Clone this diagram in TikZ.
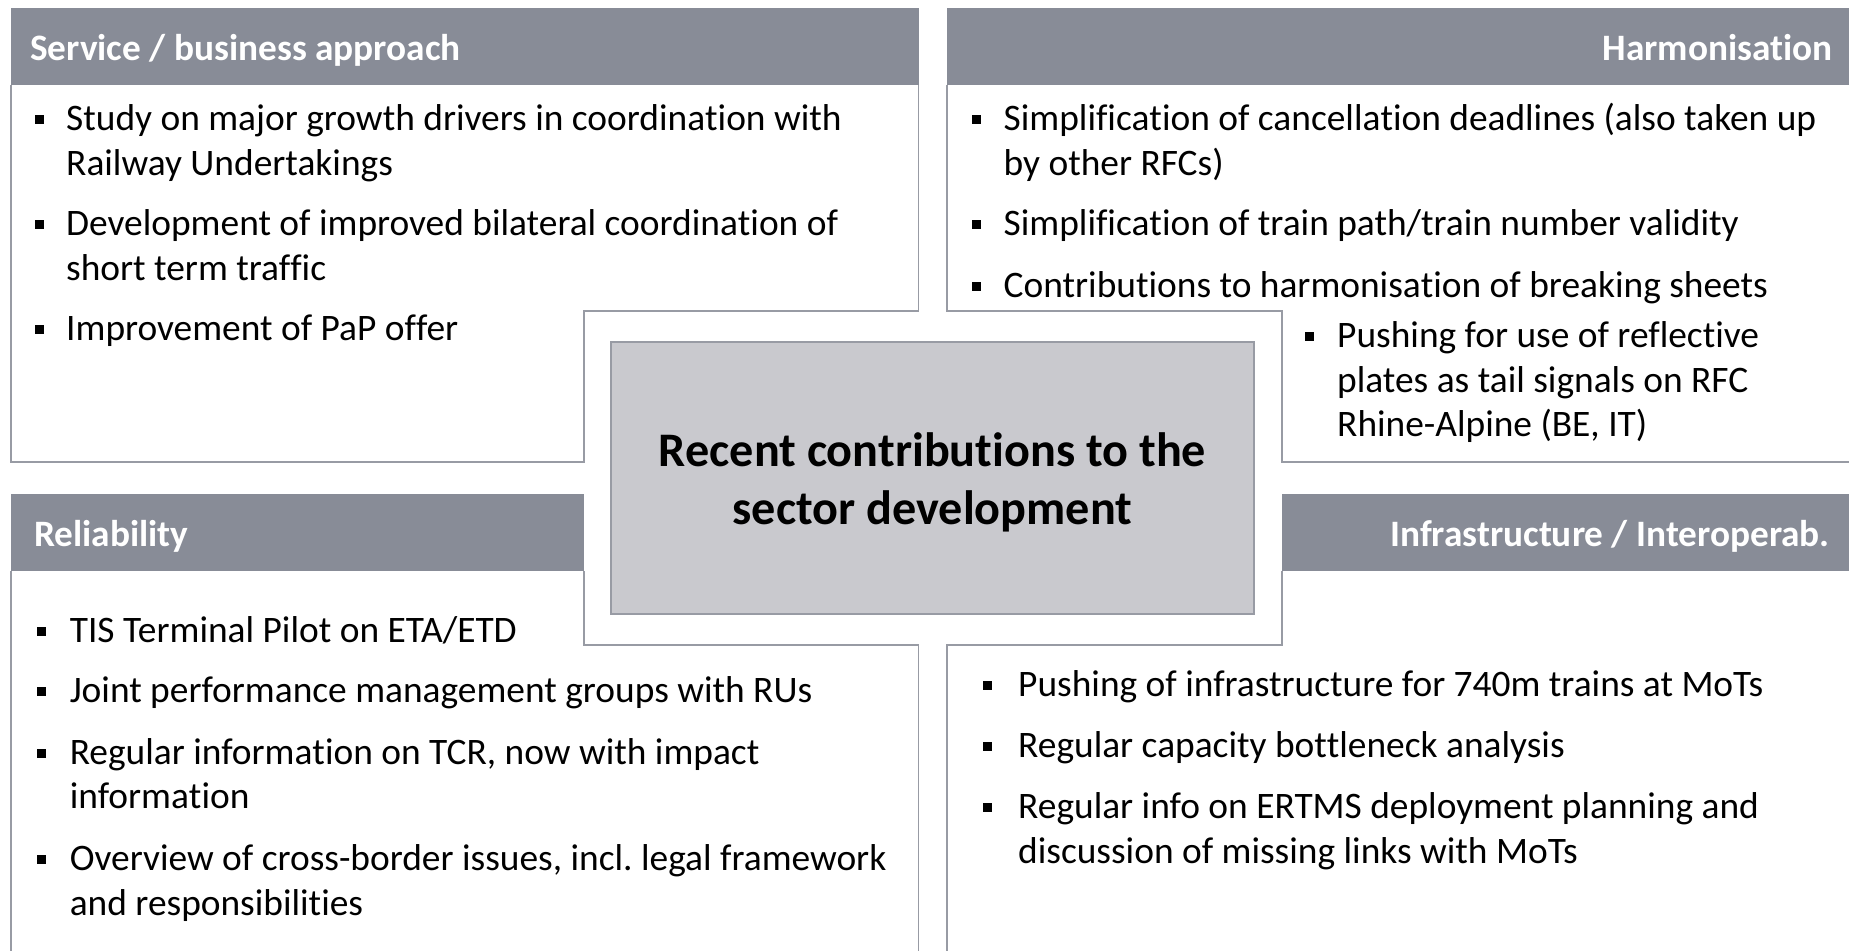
\documentclass[tikz,border=0pt]{standalone}
\usepackage{fontspec}
\setmainfont{Carlito}[Ligatures={NoCommon,NoRare,NoContextual}]
\newcommand{\nlg}{\kern0pt}
\frenchspacing
\definecolor{hdr}{RGB}{136,140,151}
\definecolor{ctr}{RGB}{201,201,206}
\definecolor{brd}{RGB}{152,155,164}
\begin{document}
\begin{tikzpicture}[x=1pt,y=-1pt,
  hdrbox/.style={fill=hdr},
  outline/.style={draw=brd,line width=1.6pt},
  htitle/.style={font=\fontsize{37.3}{45}\selectfont\bfseries,text=white,inner sep=0pt,yshift=-1.5pt},
  bodytxt/.style={font=\fontsize{37.4}{45}\selectfont,inner sep=0pt,anchor=base west,yshift=-3.5pt},
  bulsq/.style={fill=black,minimum size=9pt,inner sep=0pt,draw=none,yshift=-3.5pt},
  centertxt/.style={font=\fontsize{48.2}{59}\selectfont\bfseries,inner sep=0pt,anchor=base,yshift=-3pt}
]
\useasboundingbox[fill=white] (0,0) rectangle (1849,950);

% headers
\fill[hdrbox] (11,8) rectangle (918.6,85);
\fill[hdrbox] (947,8) rectangle (1849,85);
\fill[hdrbox] (11,494) rectangle (583.7,571);
\fill[hdrbox] (1282,494) rectangle (1849,571);

% outlines
\draw[outline] (11,85) -- (11,462) -- (583.7,462) -- (583.7,311) -- (918.6,311) -- (918.6,85);
\draw[outline] (947,85) -- (947,311) -- (1282,311) -- (1282,462) -- (1855,462);
\draw[outline] (11,571) -- (11,956);
\draw[outline] (583.7,571) -- (583.7,645) -- (918.6,645) -- (918.6,956);
\draw[outline] (1282,571) -- (1282,645) -- (947,645) -- (947,956);

% center box
\node[draw=brd,fill=ctr,line width=1.6pt,minimum width=643pt,minimum height=272pt,inner sep=0pt] (center) at (932.5,478) {};
\node[centertxt] (c1) at (932.5,463) {Recent contribu\nlg tions to the};
\node[centertxt] (c2) at (932.5,521) {sector development};

% header titles
\node[htitle,anchor=base west] (h1) at (30,59) {Service / business approach};
\node[htitle,anchor=base east] (h2) at (1833,59) {Harmonisa\nlg tion};
\node[htitle,anchor=base west] (h3) at (34,545) {Reliability};
\node[htitle,anchor=base east] (h4) at (1830,545) {Infrastructure / Interoperab.};

% top-left
\node[bulsq] (tlb1) at (39,116.4) {};
\node[bodytxt] (tl1a) at (66,127.4) {Study on major growth drivers in coordina\nlg tion with};
\node[bodytxt] (tl1b) at (66,172.2) {Railway Undertakings};
\node[bulsq] (tlb2) at (39,221.3) {};
\node[bodytxt] (tl2a) at (66,232.3) {Development of improved bilateral coordina\nlg tion of};
\node[bodytxt] (tl2b) at (66,277.1) {short term traf\nlg f\nlg ic};
\node[bulsq] (tlb3) at (39,326.3) {};
\node[bodytxt] (tl3a) at (66,337.3) {Improvement of PaP of\nlg fer};

% top-right
\node[bulsq] (trb1) at (976,116.4) {};
\node[bodytxt] (tr1a) at (1003.5,127.4) {Simplif\nlg ica\nlg tion of cancella\nlg tion deadlines (also taken up};
\node[bodytxt] (tr1b) at (1003.5,172.2) {by other RFCs)};
\node[bulsq] (trb2) at (976,221.3) {};
\node[bodytxt] (tr2a) at (1003.5,232.3) {Simplif\nlg ica\nlg tion of train path/train number validity};
\node[bulsq] (trb3) at (976,282.6) {};
\node[bodytxt] (tr3a) at (1003.5,293.6) {Contribu\nlg tions to harmonisa\nlg tion of breaking sheets};
\node[bulsq] (trb4) at (1309,333.3) {};
\node[bodytxt] (tr4a) at (1337,344.3) {Pushing for use of ref\nlg lec\nlg tive};
\node[bodytxt] (tr4b) at (1337,389.1) {plates as tail signals on RFC};
\node[bodytxt] (tr4c) at (1337,432.8) {Rhine-Alpine (BE, IT)};

% bottom-left
\node[bulsq] (blb1) at (41,628.1) {};
\node[bodytxt] (bl1a) at (69.6,639.1) {TIS Terminal Pilot on ETA/ETD};
\node[bulsq] (blb2) at (41,688.3) {};
\node[bodytxt] (bl2a) at (69.6,699.3) {Joint performance management groups with RUs};
\node[bulsq] (blb3) at (41,749.6) {};
\node[bodytxt] (bl3a) at (69.6,760.6) {Regular informa\nlg tion on TCR, now with impact};
\node[bodytxt] (bl3b) at (69.6,805.4) {informa\nlg tion};
\node[bulsq] (blb4) at (41,855.7) {};
\node[bodytxt] (bl4a) at (69.6,866.7) {Overview of cross-border issues, incl. legal framework};
\node[bodytxt] (bl4b) at (69.6,911.5) {and responsibili\nlg ties};

% bottom-right
\node[bulsq] (brb1) at (987,682.4) {};
\node[bodytxt] (br1a) at (1018,693.4) {Pushing of infrastructure for 740m trains at MoTs};
\node[bulsq] (brb2) at (987,742.5) {};
\node[bodytxt] (br2a) at (1018,753.5) {Regular capacity bot\nlg tleneck analysis};
\node[bulsq] (brb3) at (987,803.8) {};
\node[bodytxt] (br3a) at (1018,814.8) {Regular info on ERTMS deployment planning and};
\node[bodytxt] (br3b) at (1018,859.6) {discussion of missing links with MoTs};
\end{tikzpicture}
\end{document}
